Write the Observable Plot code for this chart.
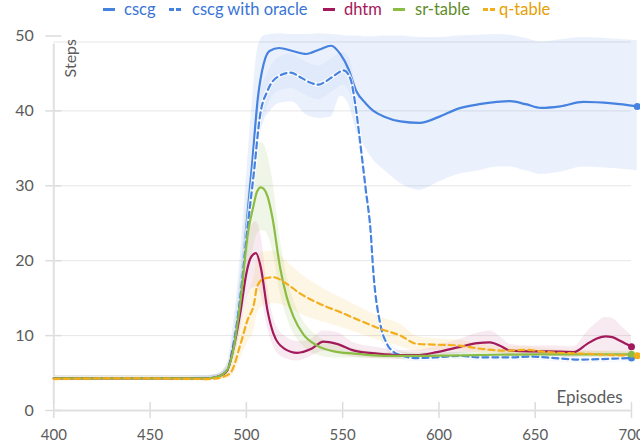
<!DOCTYPE html>
<html>
<head>
<meta charset="utf-8">
<script src="https://cdn.jsdelivr.net/npm/d3@7"></script>
<script src="https://cdn.jsdelivr.net/npm/@observablehq/plot@0.6"></script>
<style>
  html, body { margin: 0; padding: 0; background: #fff; }
  #wrap { width: 640px; height: 444px; position: relative; font-family: Lato, "Noto Sans", sans-serif; }
  #legend { position: relative; width: 640px; height: 22px; font-size: 16.5px; }
  .item { position: absolute; top: 0; height: 18px; line-height: 18px; white-space: nowrap; }
  .sw { position: absolute; top: 8px; height: 3px; }
  #chart svg { display: block; }
</style>
</head>
<body>
<div id="wrap">
  <div id="legend"></div>
  <div id="chart"></div>
</div>
<script>
// ---------- data ----------
const seriesNames = ["cscg", "cscg with oracle", "dhtm", "sr-table", "q-table"];

const cscgEp  = [400,420,440,460,480,485,490,493,495,497,500,503,506,509,512,517,524,531,538,544,549,553,557,562,566,572,580,590,600,610,621,630,637,645,653,663,675,690,703];
const cscgVal = [4.3,4.3,4.3,4.3,4.4,4.6,5.5,8.9,12,16.4,24.5,33,41.8,46.3,48,48.4,48,47.6,48.2,48.7,47.5,45.6,42.7,41,40,39.2,38.6,38.4,39.2,40.3,40.9,41.2,41.3,40.9,40.4,40.6,41.2,41,40.6];
const cscgLo  = [4.0,4.0,4.0,4.0,4.1,4.3,5.0,7.5,9.5,13,19,27,35,38.5,39.8,41,41.2,39.5,39,39.2,42,41,37.4,35,33.4,32,30.3,29.4,30.5,31.5,32,32.5,32.5,32,31.5,31.8,32.5,32.3,32];
const cscgHi  = [4.6,4.6,4.6,4.6,4.7,4.9,6.2,11,15.5,21,31,41,48.5,50,50.2,50.3,50.2,50.2,50.3,50.2,50.1,50,50,49.9,49.9,50,50,49.8,49.8,50,50.1,50.2,50.1,49.7,49.2,49.5,49.8,49.6,49.4];

const oracleEp  = [400,440,480,485,490,493,495,497,500,504,507,511,516,523,528,533,537.5,541,545.5,550.5,554,556.5,559,562,564.5,566,569.5,573,576.5,580,588.5,599,611,620,627,637,648,660,674,688,700];
const oracleVal = [4.3,4.3,4.3,4.5,5.3,8.5,11.5,15.5,23,32,39.2,42.7,44.5,45.1,44.5,43.8,43.5,43.9,44.7,45.4,44.3,41,36,29.5,24,18.3,11.6,8.9,7.8,7.4,7.0,7.1,7.3,7.1,7.1,7.1,7.2,7.0,6.8,6.9,7.0];
const oracleLo  = [4.0,4.0,4.0,4.2,4.9,7.5,10,13.5,20.5,29,36.5,40.5,42.5,43,42.5,41.8,41.5,41.9,42.7,43.4,42.3,39,34,27.5,22,16.5,10.3,8.0,7.1,6.8,6.5,6.6,6.8,6.6,6.6,6.6,6.7,6.5,6.3,6.4,6.5];
const oracleHi  = [4.6,4.6,4.6,4.8,5.7,9.5,13,17.5,25.5,35,42,45,47,47.6,47,46.3,46,46.4,47.2,47.8,46.8,43.5,38.5,31.5,26,20,13,9.8,8.5,8.0,7.5,7.6,7.8,7.6,7.6,7.6,7.7,7.5,7.3,7.4,7.5];

const dhtmEp  = [400,440,480,485,490,493.5,497,500,502.5,505,507.5,511,514,519.5,526.5,533.5,540,547,556,568,580,588.5,599,611,620,626.5,632,637,647.5,656,670,677,682,686.5,690,694,700];
const dhtmVal = [4.3,4.3,4.3,4.5,5.3,8.5,13.3,18.3,20.5,21,19.1,13.3,10.3,8.3,7.7,8.2,9.2,8.9,8.0,7.6,7.4,7.4,7.8,8.5,9.0,9.1,8.6,8.0,7.9,7.9,7.8,8.9,9.6,9.9,9.8,9.3,8.5];
const dhtmLo  = [4.0,4.0,4.0,4.2,4.8,7.2,10.8,14.5,16.2,16.5,15.5,11,8.6,7.0,6.6,7.2,7.9,7.6,7.1,6.9,6.8,6.8,7.1,7.6,7.8,7.8,7.6,7.2,7.2,7.2,7.1,7.4,7.5,7.6,7.6,7.4,7.1];
const dhtmHi  = [4.6,4.6,4.6,4.8,5.8,9.8,15.8,22,24.5,25.2,23.5,16.5,12.5,10,9.2,9.5,10.6,10.4,9.0,8.4,8.0,8.0,8.6,9.5,10.3,10.6,9.8,8.8,8.6,8.6,8.5,10.5,11.7,12.4,12.3,11.4,10];

const srEp  = [400,440,480,485,490,493.5,497,501,503.5,505.5,507.5,509,511,513.5,517.5,521,524.5,529.5,536.5,545.5,556,571.5,590,620,650,680,700];
const srVal = [4.3,4.3,4.3,4.5,5.4,8.5,14.7,24,27.1,29.2,29.8,29.6,28.6,25.8,19.1,15.1,12.5,10.2,8.7,7.9,7.6,7.3,7.3,7.4,7.5,7.5,7.5];
const srLo  = [4.0,4.0,4.0,4.2,4.6,6.5,11,18.5,21.5,23.5,24,24,23.5,21.5,15.8,12.5,10.3,8.6,7.4,7.0,7.0,6.9,6.9,7.0,7.1,7.1,7.1];
const srHi  = [4.6,4.6,4.6,4.8,6.2,10.5,18.5,29.5,33,35,35.8,35.6,34.2,31,23,18,14.8,12,10,8.8,8.2,7.7,7.7,7.8,7.9,7.9,7.9];

const qEp  = [400,440,480,485,489,492,497,500.5,504,505.5,509,514,521,528,538.5,549,559,569.5,580,588.5,597,609,623,635,645,656,673.5,690,703];
const qVal = [4.2,4.3,4.2,4.3,4.6,5.1,8.9,12,14.3,16.5,17.6,17.8,16.9,15.6,14.2,13.1,12,10.9,10.0,8.9,8.8,8.7,8.2,8.0,8.1,7.8,7.6,7.4,7.3];
const qLo  = [3.9,4.0,3.9,4.0,4.2,4.4,7,9,10.8,12.8,14,14.3,13.9,12.9,11.9,11.1,10.2,9.3,8.5,7.9,8.0,8.0,7.6,7.5,7.7,7.4,7.2,7.0,6.9];
const qHi  = [4.5,4.6,4.5,4.6,5,5.8,10.8,15,17.8,20.2,21.2,21.3,19.9,18.3,16.5,15.1,13.8,12.5,11.5,9.9,9.6,9.4,8.8,8.5,8.5,8.2,8.0,7.8,7.7];

const xTicks = [400, 450, 500, 550, 600, 650, 700];
const yTicks = [0, 10, 20, 30, 40, 50];
const gridValues = [10, 20, 30, 40];
const frameTopValue = 49.2;

// ---------- styles ----------
const styles = {
  "cscg":             {line: "#4682e0", text: "#3a74d6", band: "#4682e0", bandOpacity: 0.11, dash: null},
  "cscg with oracle": {line: "#4682e0", text: "#3a74d6", band: "#4682e0", bandOpacity: 0.06, dash: "6 4"},
  "dhtm":             {line: "#a3195b", text: "#a3195b", band: "#a3195b", bandOpacity: 0.09, dash: null},
  "sr-table":         {line: "#8bbd45", text: "#5f8d2a", band: "#8bbd45", bandOpacity: 0.13, dash: null},
  "q-table":          {line: "#f2ae1c", text: "#e6a000", band: "#f5b52a", bandOpacity: 0.12, dash: "6 4"}
};

function rows(ep, val, lo, hi) {
  return ep.map((e, i) => ({ep: e, val: val[i], lo: lo[i], hi: hi[i]}));
}
const data = {
  "cscg": rows(cscgEp, cscgVal, cscgLo, cscgHi),
  "cscg with oracle": rows(oracleEp, oracleVal, oracleLo, oracleHi),
  "dhtm": rows(dhtmEp, dhtmVal, dhtmLo, dhtmHi),
  "sr-table": rows(srEp, srVal, srLo, srHi),
  "q-table": rows(qEp, qVal, qLo, qHi)
};

// ---------- legend ----------
const legendPos = {
  "cscg":             {sw: 103, tx: 124},
  "cscg with oracle": {sw: 169, tx: 192},
  "dhtm":             {sw: 323, tx: 344},
  "sr-table":         {sw: 393, tx: 415},
  "q-table":          {sw: 483, tx: 499}
};
const legend = document.getElementById("legend");
for (const name of seriesNames) {
  const s = styles[name], p = legendPos[name];
  if (s.dash) {
    for (const off of [0, 7]) {
      const d = document.createElement("div");
      d.className = "sw";
      d.style.left = (p.sw + off) + "px";
      d.style.width = "5px";
      d.style.background = s.line;
      legend.appendChild(d);
    }
  } else {
    const d = document.createElement("div");
    d.className = "sw";
    d.style.left = p.sw + "px";
    d.style.width = "12px";
    d.style.background = s.line;
    legend.appendChild(d);
  }
  const t = document.createElement("div");
  t.className = "item";
  t.style.left = p.tx + "px";
  t.style.color = s.text;
  t.textContent = name;
  legend.appendChild(t);
}

// ---------- chart ----------
const curve = "monotone-x";
const marks = [];

// grid
marks.push(Plot.ruleY(gridValues, {stroke: "#e6e6e6", strokeWidth: 1}));
marks.push(Plot.ruleY([frameTopValue], {stroke: "#e6e6e6", strokeWidth: 1}));

// bands
for (const name of seriesNames) {
  const s = styles[name];
  marks.push(Plot.areaY(data[name], {x: "ep", y1: "lo", y2: "hi", fill: s.band, fillOpacity: s.bandOpacity, curve}));
}

// axes
marks.push(Plot.axisY(yTicks, {
  tickSize: 16, dx: 8, tickPadding: 12, stroke: "#dcdcdc", strokeWidth: 1.5,
  fill: "#5b5b5b", fontSize: 16, label: null, tickFormat: d => String(d)
}));
marks.push(Plot.axisX(xTicks, {
  tickSize: 16, dy: -8, tickPadding: 11, stroke: "#dcdcdc", strokeWidth: 1.5,
  fill: "#5b5b5b", fontSize: 15, label: null, tickFormat: d => String(d)
}));
marks.push(Plot.ruleX([400], {stroke: "#e0e0e0", strokeWidth: 2, y1: 0, y2: 50, insetTop: -6, insetBottom: -8}));
marks.push(Plot.ruleY([0], {stroke: "#e0e0e0", strokeWidth: 2}));

// lines
for (const name of seriesNames) {
  const s = styles[name];
  if (name === "cscg with oracle") {
    marks.push(Plot.lineY(data[name], {x: "ep", y: "val", stroke: "white", strokeWidth: 4, strokeOpacity: 0.8, curve}));
  }
  marks.push(Plot.lineY(data[name], {
    x: "ep", y: "val", stroke: s.line, strokeWidth: 2.2, curve,
    strokeDasharray: s.dash || undefined
  }));
}

// end dots
for (const name of seriesNames) {
  const s = styles[name];
  const rs = data[name];
  marks.push(Plot.dot([rs[rs.length - 1]], {x: "ep", y: "val", fill: s.line, r: 3.5}));
}

// axis titles
marks.push(Plot.text(["Steps"], {
  frameAnchor: "top-left", rotate: -90, textAnchor: "end", dx: 17, dy: 3,
  fill: "#5b5b5b", fontSize: 16, lineAnchor: "middle"
}));
marks.push(Plot.text(["Episodes"], {
  frameAnchor: "bottom-right", textAnchor: "end", dx: -9, dy: -13,
  fill: "#5b5b5b", fontSize: 17, lineAnchor: "middle"
}));

const chart = Plot.plot({
  width: 640,
  height: 422,
  marginLeft: 53.3,
  marginRight: 9,
  marginTop: 13.5,
  marginBottom: 34,
  style: {fontFamily: "Lato, 'Noto Sans', sans-serif", background: "white", overflow: "visible"},
  x: {domain: [400, 700]},
  y: {domain: [0, 50]},
  marks
});
document.getElementById("chart").appendChild(chart);
</script>
</body>
</html>
